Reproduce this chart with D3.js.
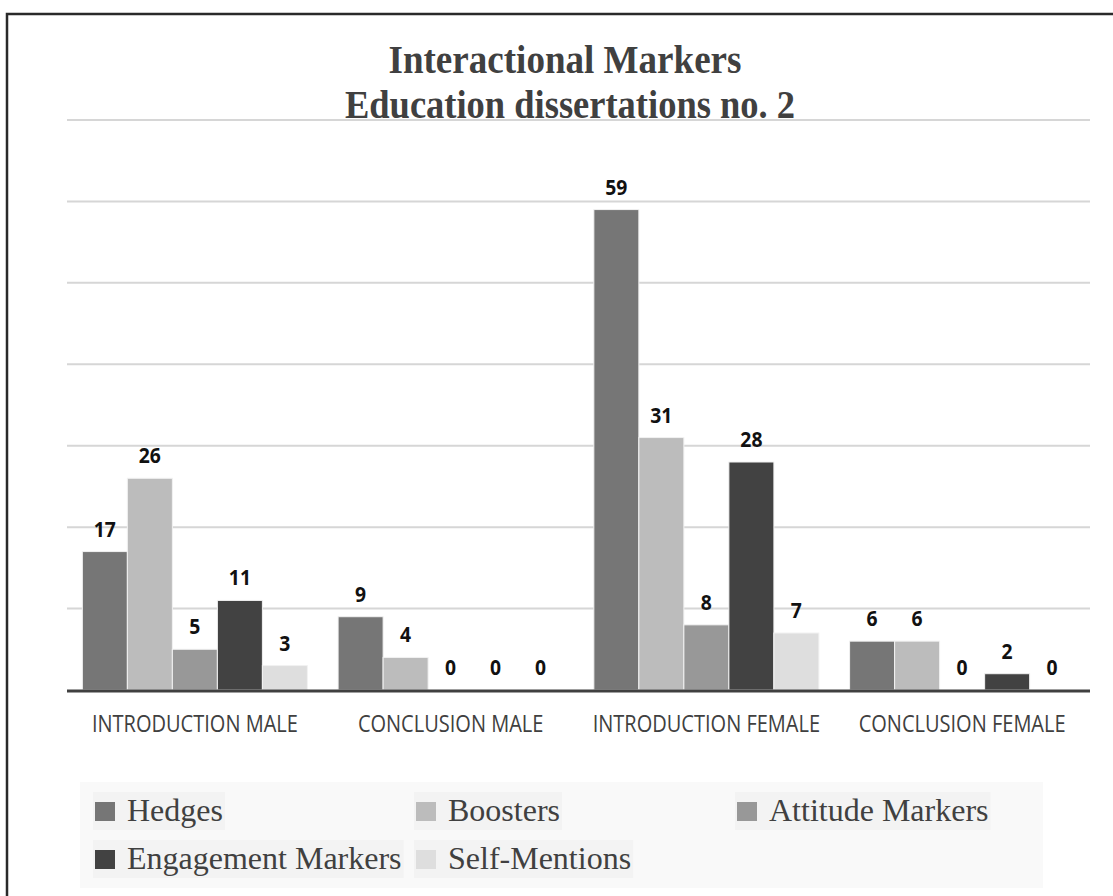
<!DOCTYPE html>
<html>
<head>
<meta charset="utf-8">
<script src="https://cdn.jsdelivr.net/npm/d3@7"></script>
<style>
  html, body { margin: 0; padding: 0; background: #fff; }
  svg { display: block; }
</style>
</head>
<body>
<svg id="chart" width="1113" height="896"></svg>
<script>
const categories = ["INTRODUCTION MALE", "CONCLUSION MALE", "INTRODUCTION FEMALE", "CONCLUSION FEMALE"]
const seriesNames = ["Hedges", "Boosters", "Attitude Markers", "Engagement Markers", "Self-Mentions"]
const hedges = [17, 9, 59, 6]
const boosters = [26, 4, 31, 6]
const attitude = [5, 0, 8, 0]
const engagement = [11, 0, 28, 2]
const selfMentions = [3, 0, 7, 0]
const gridTicks = [10, 20, 30, 40, 50, 60, 70]
const colors = ["#767676", "#bcbcbc", "#989898", "#424242", "#dedede"]

const seriesValues = [hedges, boosters, attitude, engagement, selfMentions]

const svg = d3.select("#chart")
const plotL = 67, plotR = 1090, plotT = 120, plotB = 690

// squeeze text horizontally, the scan looks narrow
function condense(sel, k) {
  sel.each(function() {
    const len = this.getComputedTextLength()
    d3.select(this).attr("textLength", len * k).attr("lengthAdjust", "spacingAndGlyphs")
  })
}

// frame: only left and top edges fall inside the picture
svg.append("rect")
    .attr("x", 7).attr("y", 14)
    .attr("width", 1300).attr("height", 1100)
    .attr("fill", "none").attr("stroke", "#2a2a2a").attr("stroke-width", 2.5)

const y = d3.scaleLinear().domain([0, 70]).range([plotB, plotT])
const x0 = d3.scaleBand().domain(categories).range([plotL, plotR]).paddingInner(0.12).paddingOuter(0.06)
const x1 = d3.scaleBand().domain(seriesNames).range([0, x0.bandwidth()])
const color = d3.scaleOrdinal().domain(seriesNames).range(colors)

// gridlines
svg.append("g")
  .selectAll("line")
  .data(gridTicks)
  .join("line")
    .attr("x1", plotL).attr("x2", plotR)
    .attr("y1", d => y(d)).attr("y2", d => y(d))
    .attr("stroke", "#d6d6d6").attr("stroke-width", 2)

// title
const title = svg.append("g")
    .attr("font-family", "'Liberation Serif', 'Times New Roman', serif")
    .attr("font-weight", "bold")
    .attr("font-size", 39)
    .attr("fill", "#404040")
    .attr("text-anchor", "middle")
title.append("text").attr("x", 565).attr("y", 73)
    .attr("textLength", 353).attr("lengthAdjust", "spacingAndGlyphs")
    .text("Interactional Markers")
title.append("text").attr("x", 570).attr("y", 118)
    .attr("textLength", 450).attr("lengthAdjust", "spacingAndGlyphs")
    .text("Education dissertations no. 2")

const rows = categories.map((c, i) => ({
  cat: c,
  vals: seriesNames.map((s, j) => ({ key: s, value: seriesValues[j][i] }))
}))

const groups = svg.append("g")
  .selectAll("g")
  .data(rows)
  .join("g")
    .attr("transform", d => `translate(${x0(d.cat)},0)`)

groups.selectAll("rect")
  .data(d => d.vals)
  .join("rect")
    .attr("x", d => x1(d.key))
    .attr("y", d => y(d.value))
    .attr("width", x1.bandwidth())
    .attr("height", d => plotB - y(d.value))
    .attr("fill", d => color(d.key))
    .attr("stroke", "#f2f2f2").attr("stroke-width", 1)

groups.selectAll("text")
  .data(d => d.vals)
  .join("text")
    .attr("x", d => x1(d.key) + x1.bandwidth() / 2)
    .attr("y", d => y(d.value) - 15)
    .attr("text-anchor", "middle")
    .attr("font-family", "'Open Sans', sans-serif")
    .attr("font-weight", "bold")
    .attr("font-size", 21)
    .attr("fill", "#111")
    .text(d => d.value)
    .call(condense, 0.92)

// baseline
svg.append("line")
    .attr("x1", plotL).attr("x2", plotR)
    .attr("y1", plotB + 1).attr("y2", plotB + 1)
    .attr("stroke", "#404040").attr("stroke-width", 3)

// category axis
const xAxis = d3.axisBottom(x0).tickSize(0).tickPadding(0)
const ax = svg.append("g").attr("transform", `translate(0,${plotB})`).call(xAxis)
ax.select(".domain").remove()
ax.selectAll("text")
    .attr("y", 42)
    .attr("dy", 0)
    .attr("font-family", "'Open Sans', sans-serif")
    .attr("font-size", 23)
    .attr("fill", "#404040")
    .call(condense, 0.87)

// legend
const legend = svg.append("g")
legend.append("rect")
    .attr("x", 80).attr("y", 782).attr("width", 963).attr("height", 106)
    .attr("fill", "#f9f9f9")

const legendCols = d3.scalePoint().domain([0, 1, 2]).range([95, 737])
const legendRows = d3.scalePoint().domain([0, 1]).range([821, 869])

const items = legend.selectAll("g.item")
  .data(seriesNames)
  .join("g")
    .attr("class", "item")
    .attr("transform", (d, i) => `translate(${legendCols(i % 3)},${legendRows(Math.floor(i / 3))})`)

items.append("rect").attr("class", "bg")
items.append("rect")
    .attr("x", 0).attr("y", -19)
    .attr("width", 20).attr("height", 19)
    .attr("fill", d => color(d))
items.append("text")
    .attr("x", 32).attr("y", 0)
    .attr("font-family", "'Liberation Serif', 'Times New Roman', serif")
    .attr("font-size", 32)
    .attr("fill", "#404040")
    .text(d => d)

items.each(function() {
  const g = d3.select(this)
  const bb = g.select("text").node().getBBox()
  g.select("rect.bg")
      .attr("x", -2).attr("y", -29)
      .attr("width", bb.x + bb.width + 4).attr("height", 38)
      .attr("fill", "#f3f3f3")
})
</script>
</body>
</html>
